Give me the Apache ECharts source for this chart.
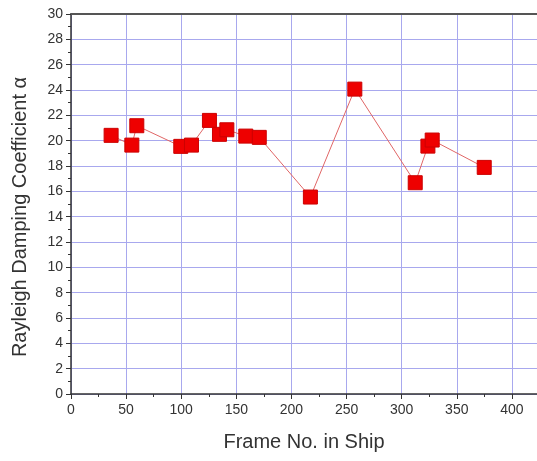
<!DOCTYPE html>
<html>
<head>
<meta charset="utf-8">
<script src="https://cdn.jsdelivr.net/npm/echarts@6/dist/echarts.min.js"></script>
<style>html,body{margin:0;padding:0;background:#fff;}#c{width:537px;height:461px;}</style>
</head>
<body>
<div id="c"></div>
<script>
var frames = [36.4, 55.2, 59.7, 99.6, 109.3, 125.6, 134.7, 141.4, 158.6, 170.8, 217.2, 257.5, 312.3, 323.8, 327.7, 374.9];
var alpha  = [20.42, 19.65, 21.18, 19.55, 19.65, 21.6, 20.5, 20.86, 20.36, 20.26, 15.55, 24.07, 16.68, 19.57, 20.05, 17.89];
var xTitle = 'Frame No. in Ship';
var yTitle = 'Rayleigh Damping Coefficient \u03b1';

var chart = echarts.init(document.getElementById('c'));
var font = 'Liberation Sans, Arial, sans-serif';
var pts = frames.map(function(f, i){ return [f, alpha[i]]; });
chart.setOption({
  animation: false,
  grid: { left: 71, top: 14, width: 496, height: 380, containLabel: false, outerBoundsMode: 'none' },
  xAxis: [{
    type: 'value', min: 0, max: 450, interval: 50,
    axisLine: { show: true, onZero: false, lineStyle: { color: '#333', width: 1.5 } },
    axisTick: { show: true, length: 5, lineStyle: { color: '#333' } },
    minorTick: { show: true, splitNumber: 2, length: 3, lineStyle: { color: '#333' } },
    axisLabel: { color: '#333', fontSize: 14, fontFamily: font, margin: 9,
      formatter: function(v){ return v > 420 ? '' : v; } },
    splitLine: { show: true, lineStyle: { color: '#a8a8ee', width: 1 } }
  }, {
    type: 'value', position: 'top', min: 0, max: 450,
    axisLine: { show: true, onZero: false, lineStyle: { color: '#555', width: 2 } },
    axisTick: { show: false }, axisLabel: { show: false }, splitLine: { show: false }
  }],
  yAxis: {
    type: 'value', min: 0, max: 30, interval: 2,
    axisLine: { show: true, onZero: false, lineStyle: { color: '#333', width: 1.5 } },
    axisTick: { show: true, length: 5, lineStyle: { color: '#333' } },
    minorTick: { show: true, splitNumber: 2, length: 3, lineStyle: { color: '#333' } },
    axisLabel: { color: '#333', fontSize: 14, fontFamily: font, margin: 8 },
    splitLine: { show: true, lineStyle: { color: '#a8a8ee', width: 1 } }
  },
  graphic: [{
    type: 'text', x: 304, y: 442,
    style: { text: xTitle, fill: '#333', font: '20px ' + font, align: 'center', verticalAlign: 'middle' }
  }, {
    type: 'text', x: 20, y: 217, rotation: Math.PI / 2,
    style: { text: yTitle, fill: '#333', font: '20px ' + font, align: 'center', verticalAlign: 'middle' }
  }],
  series: [{
    type: 'line', data: pts, xAxisIndex: 0,
    symbol: 'rect', symbolSize: 14,
    itemStyle: { color: '#ee0000', borderColor: '#cc0000', borderWidth: 1 },
    lineStyle: { color: '#e06666', width: 1 }
  }]
});
</script>
</body>
</html>
